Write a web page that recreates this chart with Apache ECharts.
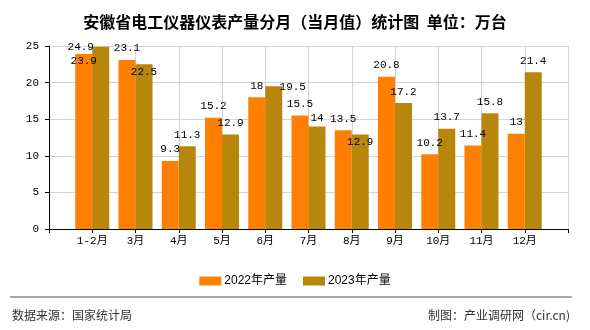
<!DOCTYPE html>
<html>
<head>
<meta charset="utf-8">
<script src="https://cdn.jsdelivr.net/npm/echarts@6/dist/echarts.min.js"></script>
<style>html,body{margin:0;padding:0;background:#fff}#c{width:590px;height:330px}</style>
</head>
<body>
<div id="c"></div>
<script>
const categories = ['1-2月','3月','4月','5月','6月','7月','8月','9月','10月','11月','12月'];
const values2022 = [23.9, 23.1, 9.3, 15.2, 18, 15.5, 13.5, 20.8, 10.2, 11.4, 13];
const values2023 = [24.9, 22.5, 11.3, 12.9, 19.5, 14, 12.9, 17.2, 13.7, 15.8, 21.4];
const yTicks = { min: 0, max: 25, interval: 5 };
const seriesNames = ['2022年产量', '2023年产量'];
const titleText = '安徽省电工仪器仪表产量分月（当月值）统计图  单位：万台';

// label placement tweaks (style only), keyed by category index
const labelTweaks2022 = { 0: { position: 'insideTop', distance: 2 } };
const labelTweaks2023 = {
  0: { position: 'top', offset: [-20, 12] },
  1: { position: 'insideTop', distance: 2 },
  4: { position: 'top', offset: [19, 12] },
  5: { position: 'top', offset: [0, 3] },
  6: { position: 'insideTop', distance: 2 }
};

const monoFont = "'Liberation Mono', 'Noto Sans CJK SC', monospace";
function build(vals, tweaks) {
  const arr = [null];
  vals.forEach((v, i) => {
    const item = { value: v };
    if (tweaks[i]) item.label = Object.assign({}, tweaks[i]);
    arr.push(item);
  });
  arr.push(null);
  return arr;
}
const xData = [''].concat(categories, ['']);

const chart = echarts.init(document.getElementById('c'), null, { renderer: 'canvas' });
chart.setOption({
  animation: false,
  backgroundColor: '#fff',
  title: {
    text: titleText, left: 'center', top: 9,
    textStyle: { fontSize: 16, fontWeight: 'bold', color: '#000', fontFamily: "'Noto Sans CJK SC', sans-serif" }
  },
  legend: {
    data: seriesNames, left: 'center', top: 270,
    itemWidth: 22, itemHeight: 9, itemGap: 16,
    icon: 'rect',
    textStyle: { fontSize: 12, color: '#000', fontFamily: "'Liberation Sans', 'Noto Sans CJK SC', sans-serif", padding: [0, 0, 0, -2] }
  },
  grid: { left: 49, right: 22, top: 46, bottom: 101, containLabel: false },
  xAxis: {
    type: 'category', data: xData, boundaryGap: false,
    axisLine: { lineStyle: { color: '#000', width: 1 } },
    axisTick: { show: true, length: 4, lineStyle: { color: '#000' } },
    axisLabel: { interval: 0, margin: 7, fontSize: 11, color: '#000', fontFamily: monoFont },
    splitLine: { show: true, lineStyle: { color: '#d3d3d3', width: 1 } }
  },
  yAxis: {
    type: 'value', min: yTicks.min, max: yTicks.max, interval: yTicks.interval,
    axisLine: { show: true, lineStyle: { color: '#000', width: 1 } },
    axisTick: { show: true, length: 4, lineStyle: { color: '#000' } },
    axisLabel: { margin: 10, fontSize: 11, color: '#000', fontFamily: monoFont },
    splitLine: { show: true, lineStyle: { color: '#d3d3d3', width: 1 } }
  },
  series: [
    {
      name: seriesNames[0], type: 'bar', barWidth: 17, barGap: '0%',
      itemStyle: { color: '#FF8000' },
      label: { show: true, position: 'top', distance: 6, fontSize: 11, color: '#000', fontFamily: monoFont },
      data: build(values2022, labelTweaks2022)
    },
    {
      name: seriesNames[1], type: 'bar', barWidth: 17, barGap: '0%',
      itemStyle: { color: '#B8860B' },
      label: { show: true, position: 'top', distance: 6, fontSize: 11, color: '#000', fontFamily: monoFont },
      data: build(values2023, labelTweaks2023)
    }
  ],
  graphic: [
    { type: 'line', shape: { x1: 10, y1: 297, x2: 572, y2: 297 }, style: { stroke: '#888', lineWidth: 1.5 } },
    { type: 'text', left: 12, top: 309, style: { text: '数据来源：国家统计局', fontSize: 12, fill: '#333', fontFamily: "'Noto Sans CJK SC', sans-serif" } },
    { type: 'text', right: 20, top: 309, style: { text: '制图：产业调研网（cir.cn)', fontSize: 12, fill: '#333', fontFamily: "'Noto Sans CJK SC', sans-serif" } }
  ]
});
</script>
</body>
</html>
